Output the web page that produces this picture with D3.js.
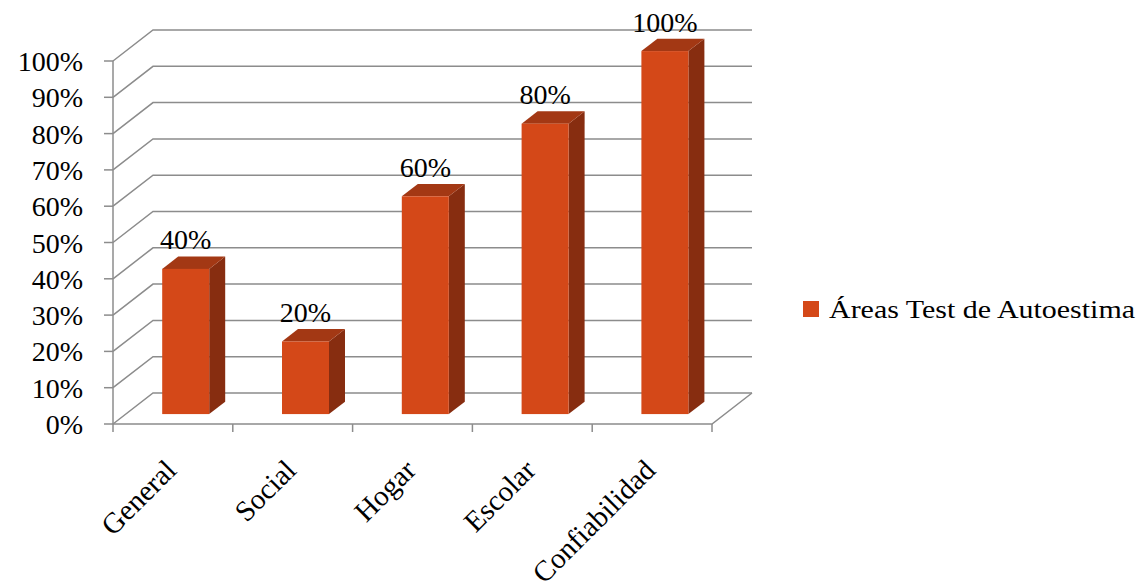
<!DOCTYPE html>
<html>
<head>
<meta charset="utf-8">
<script src="https://cdn.jsdelivr.net/npm/d3@7"></script>
<style>
  html, body { margin: 0; padding: 0; background: #fff; }
  svg { display: block; }
  text { font-family: "Liberation Serif", "DejaVu Serif", serif; fill: #000; }
</style>
</head>
<body>
<svg id="chart" width="1141" height="588"></svg>
<script>
// Autoestima test results by area
const categories = ["General", "Social", "Hogar", "Escolar", "Confiabilidad"];
const values = [0.40, 0.20, 0.60, 0.80, 1.00];
const yTicks = [0, 0.1, 0.2, 0.3, 0.4, 0.5, 0.6, 0.7, 0.8, 0.9, 1.0];
const seriesName = "Áreas Test de Autoestima";

const svg = d3.select("#chart");
const serif = "'Liberation Serif', 'DejaVu Serif', serif";

// Plot frame (front plane) and the oblique depth of the 3D box
const front = { left: 113, right: 712, top: 61, bottom: 424 };
const depth = { dx: 40, dy: -31 };
const barDepthStart = 0.32, barDepthEnd = 0.72;

const x = d3.scaleBand().domain(categories).range([front.left, front.right]);
const y = d3.scaleLinear().domain([0, 1]).range([front.bottom, front.top]);
const pct = d3.format(".0%");

const gridColor = "#8c8c8c";
const colors = { front: "#d44818", top: "#a33814", side: "#872d10" };

// Side wall and back wall gridlines
const grid = svg.append("g").attr("stroke", gridColor).attr("stroke-width", 1.5).attr("fill", "none");
yTicks.forEach(t => {
  const yy = y(t);
  grid.append("path").attr("d", d3.line()([
    [front.left, yy],
    [front.left + depth.dx, yy + depth.dy],
    [front.right + depth.dx, yy + depth.dy]
  ]));
});
// Floor: front edge and right side edge
grid.append("path").attr("d", d3.line()([
  [front.left, y(0)], [front.right, y(0)], [front.right + depth.dx, y(0) + depth.dy]
]));
// Vertical axis line
grid.append("line").attr("x1", front.left).attr("x2", front.left).attr("y1", y(1)).attr("y2", y(0));
// Y ticks
yTicks.forEach(t => {
  grid.append("line").attr("x1", front.left - 9).attr("x2", front.left).attr("y1", y(t)).attr("y2", y(t));
});
// X ticks at category boundaries
const bounds = categories.map(c => x(c)).concat([x.range()[1]]);
bounds.forEach(bx => {
  grid.append("line").attr("x1", bx).attr("x2", bx).attr("y1", y(0)).attr("y2", y(0) + 8);
});

// Y tick labels
svg.append("g").selectAll("text").data(yTicks).join("text")
  .attr("x", 83)
  .attr("y", d => y(d))
  .attr("dy", "0.36em")
  .attr("text-anchor", "end")
  .attr("font-family", serif)
  .attr("font-size", 28)
  .text(d => pct(d));

// 3D bars
const barW = 47;
const bars = svg.append("g");
categories.forEach((c, i) => {
  const v = values[i];
  const cx = x(c) + x.bandwidth() / 2;
  const ox = depth.dx * barDepthStart, oy = depth.dy * barDepthStart;
  const bx = depth.dx * (barDepthEnd - barDepthStart), by = depth.dy * (barDepthEnd - barDepthStart);
  const x0 = cx + ox - barW / 2, x1 = x0 + barW;
  const yb = y(0) + oy, yt = y(v) + oy;
  // side face
  bars.append("path").attr("fill", colors.side)
    .attr("d", d3.line()([[x1, yt], [x1 + bx, yt + by], [x1 + bx, yb + by], [x1, yb]]) + "Z");
  // top face
  bars.append("path").attr("fill", colors.top)
    .attr("d", d3.line()([[x0, yt], [x0 + bx, yt + by], [x1 + bx, yt + by], [x1, yt]]) + "Z");
  // front face
  bars.append("rect").attr("fill", colors.front)
    .attr("x", x0).attr("y", yt).attr("width", barW).attr("height", yb - yt);
  // value label
  bars.append("text")
    .attr("x", (x0 + x1) / 2)
    .attr("y", yt + by - 7)
    .attr("text-anchor", "middle")
    .attr("font-family", serif)
    .attr("font-size", 28)
    .text(pct(v));
});

// Category labels, rotated
svg.append("g").selectAll("text").data(categories).join("text")
  .attr("transform", d => `translate(${x(d) + x.bandwidth() / 2 + 5},${y(0) + 48}) rotate(-45)`)
  .attr("text-anchor", "end")
  .attr("font-family", serif)
  .attr("font-size", 29)
  .text(d => d);

// Legend
const legend = svg.append("g");
legend.append("rect").attr("x", 803).attr("y", 301).attr("width", 16).attr("height", 16).attr("fill", colors.front);
legend.append("text").attr("x", 829).attr("y", 318).attr("font-size", 26)
  .attr("font-family", serif)
  .attr("textLength", 306).attr("lengthAdjust", "spacingAndGlyphs")
  .text(seriesName);
</script>
</body>
</html>
